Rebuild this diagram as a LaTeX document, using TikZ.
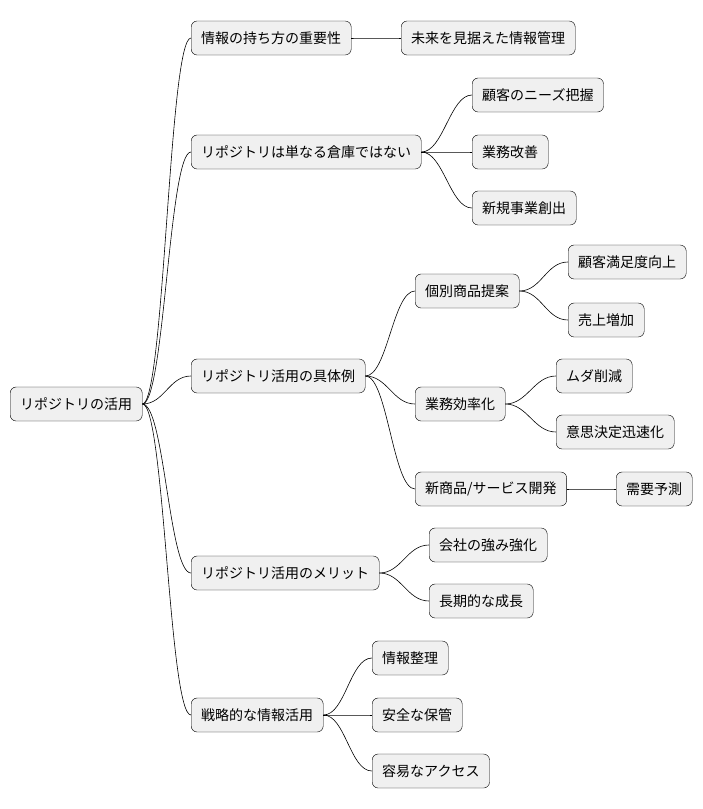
\documentclass[tikz,border=0pt]{standalone}
\usepackage{fontspec}
\newfontfamily\cjk{Noto Sans CJK JP}
\begin{document}
\begin{tikzpicture}[x=1pt,y=-1pt,
  idea/.style={draw=black,fill=black!6,rounded corners=6pt,anchor=west,
    minimum height=34pt,inner xsep=10pt,font=\cjk\fontsize{14}{16}\selectfont},
  branch/.style={draw=black,line width=0.6pt}]
  \useasboundingbox (0,0) rectangle (703,809);

  % root and first level
  \node[idea] (root) at (10,404) {リポジトリの活用};
  \node[idea] (hold) at (191,38)  {情報の持ち方の重要性};
  \node[idea] (repo) at (191,152) {リポジトリは単なる倉庫ではない};
  \node[idea] (case) at (191,376) {リポジトリ活用の具体例};
  \node[idea] (merit) at (191,573) {リポジトリ活用のメリット};
  \node[idea] (strat) at (191,715) {戦略的な情報活用};

  % second level
  \node[idea] (future) at (401,38) {未来を見据えた情報管理};
  \node[idea] (needs) at (472,95)  {顧客のニーズ把握};
  \node[idea] (improve) at (472,152) {業務改善};
  \node[idea] (newbiz) at (472,208) {新規事業創出};
  \node[idea] (propose) at (415,291) {個別商品提案};
  \node[idea] (effic) at (415,404) {業務効率化};
  \node[idea] (newprod) at (415,489) {新商品/サービス開発};
  \node[idea] (strong) at (429,545) {会社の強み強化};
  \node[idea] (growth) at (429,601) {長期的な成長};
  \node[idea] (arrange) at (372,658) {情報整理};
  \node[idea] (safe) at (372,715) {安全な保管};
  \node[idea] (access) at (372,771) {容易なアクセス};

  % third level
  \node[idea] (satis) at (568,262) {顧客満足度向上};
  \node[idea] (sales) at (568,320) {売上増加};
  \node[idea] (waste) at (556,376) {ムダ削減};
  \node[idea] (quick) at (556,432) {意思決定迅速化};
  \node[idea] (demand) at (616,489) {需要予測};

  \foreach \a/\b in {root/hold,root/repo,root/case,root/merit,root/strat,
      hold/future,repo/needs,repo/improve,repo/newbiz,
      case/propose,case/effic,case/newprod,merit/strong,merit/growth,
      strat/arrange,strat/safe,strat/access,
      propose/satis,propose/sales,effic/waste,effic/quick,newprod/demand}
    \draw[branch] (\a.east) to[out=0,in=180,out distance=22pt,in distance=22pt] (\b.west);
\end{tikzpicture}
\end{document}
